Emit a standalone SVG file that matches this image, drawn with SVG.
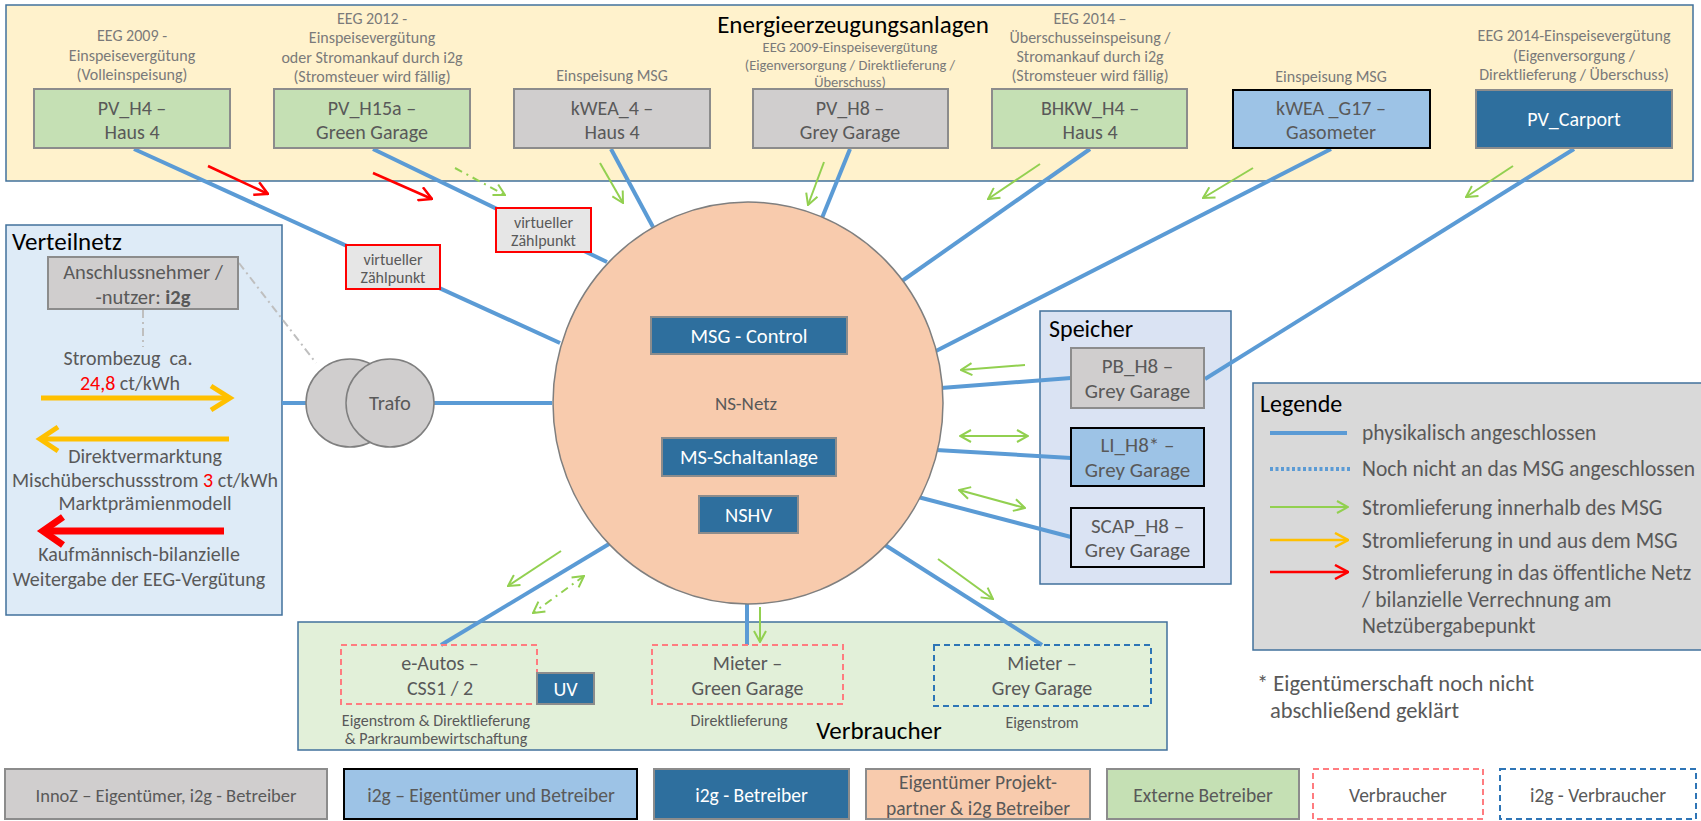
<svg xmlns="http://www.w3.org/2000/svg" width="1701" height="821" viewBox="0 0 1701 821">
<style>
text{font-family:Carlito,Lato,"Liberation Sans",sans-serif;fill:#595959;text-anchor:middle}
.ann{font-size:16px;fill:#7a7a7a}
.ann2{font-size:14.5px;fill:#7a7a7a}
.bt{font-size:20px}
.st{font-size:21px}
.it{font-size:20.5px}
.wt{fill:#ffffff}
.hd{fill:#000000;text-anchor:start}
.lt{text-anchor:start;font-size:21.5px}
.cap{font-size:16px}
.green{fill:#c5e0b4;stroke:#8c8c8c;stroke-width:2}
.grey{fill:#d0cece;stroke:#8c8c8c;stroke-width:2}
.lblue{fill:#9dc3e6;stroke:#000;stroke-width:2}
.dblue{fill:#2e6f9e;stroke:#8c8c8c;stroke-width:2}
.peach{fill:#f8cbad;stroke:#8c8c8c;stroke-width:2}
.dpink{fill:none;stroke:#ff7c80;stroke-width:2;stroke-dasharray:6 4}
.dblu{fill:none;stroke:#2e75b6;stroke-width:2;stroke-dasharray:6 4}
.vz{fill:#e6e6e6;stroke:#ff0000;stroke-width:2}
.bl{stroke:#5b9bd5;stroke-width:4;fill:none}
.ga{stroke:#92d050;stroke-width:2;fill:none;marker-end:url(#mg)}
.gd{stroke:#92d050;stroke-width:2;fill:none;marker-end:url(#mg);marker-start:url(#mg)}
.ra{stroke:#ff0000;stroke-width:2.5;fill:none;marker-end:url(#mr)}
</style>
<defs>
<marker id="mg" viewBox="0 0 14 14" refX="13" refY="7" markerWidth="14" markerHeight="14" markerUnits="userSpaceOnUse" orient="auto-start-reverse"><path d="M2,1 L13,7 L2,13" fill="none" stroke="#92d050" stroke-width="2"/></marker>
<marker id="mr" viewBox="0 0 16 16" refX="15" refY="8" markerWidth="16" markerHeight="16" markerUnits="userSpaceOnUse" orient="auto"><path d="M2,1 L15,8 L2,15" fill="none" stroke="#ff0000" stroke-width="2.5"/></marker>
<marker id="my" viewBox="0 0 16 16" refX="15" refY="8" markerWidth="16" markerHeight="16" markerUnits="userSpaceOnUse" orient="auto"><path d="M2,1 L15,8 L2,15" fill="none" stroke="#ffc000" stroke-width="2.5"/></marker>
</defs>
<rect width="1701" height="821" fill="#ffffff"/>

<!-- containers -->
<g id="erzeugung">
<rect x="6" y="5" width="1687" height="176" fill="#fff2cc" stroke="#41719c" stroke-width="1.5"/>
<text x="853" y="33" class="hd" style="text-anchor:middle;font-size:25px">Energieerzeugungsanlagen</text>
</g>
<g id="verteilnetz">
<rect x="6" y="225" width="276" height="390" fill="#deebf7" stroke="#41719c" stroke-width="1.5"/>
<text x="12" y="250" class="hd" style="font-size:25px">Verteilnetz</text>
</g>
<g id="speicher">
<rect x="1040" y="311" width="191" height="273" fill="#dae3f3" stroke="#41719c" stroke-width="1.5"/>
<text x="1049" y="337" class="hd" style="font-size:24px">Speicher</text>
</g>
<g id="verbraucher">
<rect x="298" y="622" width="869" height="128" fill="#e2f0d9" stroke="#41719c" stroke-width="1.5"/>
<text x="879" y="739" class="hd" style="text-anchor:middle;font-size:25px">Verbraucher</text>
</g>

<!-- connectors -->
<g id="connectors">
<line class="bl" x1="134" y1="149" x2="560" y2="343"/>
<line class="bl" x1="373" y1="149" x2="607" y2="262"/>
<line class="bl" x1="611" y1="149" x2="653" y2="227"/>
<line class="bl" x1="850" y1="149" x2="822" y2="218"/>
<line class="bl" x1="1090" y1="149" x2="902" y2="281"/>
<line class="bl" x1="1331" y1="149" x2="934" y2="352"/>
<line class="bl" x1="1574" y1="149" x2="1205" y2="379"/>
<line class="bl" x1="941" y1="388" x2="1071" y2="378"/>
<line class="bl" x1="936" y1="450" x2="1071" y2="458"/>
<line class="bl" x1="918" y1="497" x2="1071" y2="537"/>
<line class="bl" x1="885" y1="545" x2="1042" y2="645"/>
<line class="bl" x1="747" y1="603" x2="747" y2="645"/>
<line class="bl" x1="441" y1="645" x2="609" y2="544"/>
<line class="bl" x1="282" y1="403" x2="306" y2="403"/>
<line class="bl" x1="434" y1="403" x2="552" y2="403"/>
<line x1="143" y1="310" x2="143" y2="347" stroke="#bfbfbf" stroke-width="2" stroke-dasharray="8 4 2 4"/>
<line x1="239" y1="263" x2="316" y2="363" stroke="#bfbfbf" stroke-width="2" stroke-dasharray="8 4 2 4"/>
<line class="ra" x1="208" y1="166" x2="268" y2="194"/>
<line class="ra" x1="373" y1="173" x2="432" y2="199"/>
<line class="ga" x1="455" y1="168" x2="505" y2="195" stroke-dasharray="8 5 2 5"/>
<line class="ga" x1="600" y1="163" x2="623" y2="203"/>
<line class="ga" x1="824" y1="162" x2="808" y2="205"/>
<line class="ga" x1="1040" y1="164" x2="988" y2="199"/>
<line class="ga" x1="1253" y1="168" x2="1203" y2="198"/>
<line class="ga" x1="1513" y1="166" x2="1466" y2="197"/>
<line class="ga" x1="1025" y1="365" x2="961" y2="370"/>
<line class="gd" x1="960" y1="436" x2="1028" y2="436"/>
<line class="gd" x1="959" y1="490" x2="1025" y2="508"/>
<line class="ga" x1="938" y1="559" x2="993" y2="599"/>
<line class="ga" x1="760" y1="607" x2="760" y2="642"/>
<line class="ga" x1="561" y1="551" x2="508" y2="586"/>
<line class="gd" x1="584" y1="576" x2="533" y2="613" stroke-dasharray="8 5 2 5"/>
<!-- Verteilnetz arrows -->
<path d="M41,398 H229" stroke="#ffc000" stroke-width="5" fill="none"/>
<path d="M211,386 L230,398 L211,410" stroke="#ffc000" stroke-width="5" fill="none"/>
<path d="M41,439 H229" stroke="#ffc000" stroke-width="5" fill="none"/>
<path d="M58,427 L40,439 L58,451" stroke="#ffc000" stroke-width="5" fill="none"/>
<path d="M46,531 H224" stroke="#ff0000" stroke-width="7" fill="none"/>
<path d="M63,517 L43,531 L63,545" stroke="#ff0000" stroke-width="7" fill="none"/>
</g>

<!-- NS-Netz -->
<g id="ns-netz">
<ellipse cx="748" cy="403" rx="195" ry="201" fill="#f8cbad" stroke="#7f7f7f" stroke-width="1.5"/>
<text x="746" y="410" style="font-size:19px">NS-Netz</text>
</g>
<g id="msg-control"><rect x="651" y="317" width="196" height="37" class="dblue"/><text x="749" y="343" class="it wt">MSG - Control</text></g>
<g id="ms-schaltanlage"><rect x="662" y="438" width="174" height="38" class="dblue"/><text x="749" y="464" class="it wt">MS-Schaltanlage</text></g>
<g id="nshv"><rect x="699" y="496" width="99" height="37" class="dblue"/><text x="748.5" y="522" class="it wt">NSHV</text></g>

<!-- generators -->
<g id="pv-h4">
<text class="ann" x="132" y="40.5">EEG 2009 -</text>
<text class="ann" x="132" y="60.5">Einspeisevergütung</text>
<text class="ann" x="132" y="79.5">(Volleinspeisung)</text>
<rect x="34" y="89" width="196" height="59" class="green"/>
<text class="bt" x="132" y="115">PV_H4 –</text>
<text class="bt" x="132" y="139">Haus 4</text>
</g>
<g id="pv-h15a">
<text class="ann" x="372" y="23.5">EEG 2012 -</text>
<text class="ann" x="372" y="42.5">Einspeisevergütung</text>
<text class="ann" x="372" y="62.5">oder Stromankauf durch i2g</text>
<text class="ann" x="372" y="81.5">(Stromsteuer wird fällig)</text>
<rect x="274" y="89" width="196" height="59" class="green"/>
<text class="bt" x="372" y="115">PV_H15a –</text>
<text class="bt" x="372" y="139">Green Garage</text>
</g>
<g id="kwea-4">
<text class="ann" x="612" y="80.5">Einspeisung MSG</text>
<rect x="514" y="89" width="196" height="59" class="grey"/>
<text class="bt" x="612" y="115">kWEA_4 –</text>
<text class="bt" x="612" y="139">Haus 4</text>
</g>
<g id="pv-h8">
<text class="ann2" x="850" y="52">EEG 2009-Einspeisevergütung</text>
<text class="ann2" x="850" y="70">(Eigenversorgung / Direktlieferung /</text>
<text class="ann2" x="850" y="87">Überschuss)</text>
<rect x="753" y="89" width="195" height="59" class="grey"/>
<text class="bt" x="850" y="115">PV_H8 –</text>
<text class="bt" x="850" y="139">Grey Garage</text>
</g>
<g id="bhkw-h4">
<text class="ann" x="1090" y="23.5">EEG 2014 –</text>
<text class="ann" x="1090" y="42.5">Überschusseinspeisung /</text>
<text class="ann" x="1090" y="61.5">Stromankauf durch i2g</text>
<text class="ann" x="1090" y="80.5">(Stromsteuer wird fällig)</text>
<rect x="992" y="89" width="195" height="59" class="green"/>
<text class="bt" x="1090" y="115">BHKW_H4 –</text>
<text class="bt" x="1090" y="139">Haus 4</text>
</g>
<g id="kwea-g17">
<text class="ann" x="1331" y="81.5">Einspeisung MSG</text>
<rect x="1233" y="90" width="197" height="58" class="lblue"/>
<text class="bt" x="1331" y="115">kWEA _G17 –</text>
<text class="bt" x="1331" y="139">Gasometer</text>
</g>
<g id="pv-carport">
<text class="ann" x="1574" y="40.5">EEG 2014-Einspeisevergütung</text>
<text class="ann" x="1574" y="60.5">(Eigenversorgung /</text>
<text class="ann" x="1574" y="79.5">Direktlieferung / Überschuss)</text>
<rect x="1476" y="90" width="196" height="58" class="dblue"/>
<text class="bt wt" x="1574" y="126">PV_Carport</text>
</g>

<!-- virtual meters -->
<g id="vz1"><rect x="346" y="245" width="94" height="44" class="vz"/><text x="393" y="265" style="font-size:16px">virtueller</text><text x="393" y="283" style="font-size:16px">Zählpunkt</text></g>
<g id="vz2"><rect x="496" y="208" width="95" height="44" class="vz"/><text x="543.5" y="228" style="font-size:16px">virtueller</text><text x="543.5" y="246" style="font-size:16px">Zählpunkt</text></g>

<!-- Verteilnetz content -->
<g id="anschlussnehmer">
<rect x="48" y="257" width="190" height="52" class="grey"/>
<text x="143" y="279" style="font-size:20.5px">Anschlussnehmer /</text>
<text x="143" y="304" style="font-size:20.5px">-nutzer: <tspan style="font-weight:bold">i2g</tspan></text>
</g>
<g id="verteilnetz-text" style="font-size:20px">
<text x="128" y="365" style="white-space:pre">Strombezug  ca.</text>
<text x="130" y="390"><tspan fill="#ff0000">24,8</tspan> ct/kWh</text>
<text x="145" y="463">Direktvermarktung</text>
<text x="145" y="487">Mischüberschussstrom <tspan fill="#ff0000">3</tspan> ct/kWh</text>
<text x="145" y="510">Marktprämienmodell</text>
<text x="139" y="561">Kaufmännisch-bilanzielle</text>
<text x="139" y="586">Weitergabe der EEG-Vergütung</text>
</g>

<!-- Trafo -->
<g id="trafo">
<circle cx="350" cy="403" r="44" fill="#d0cece" stroke="#7f7f7f" stroke-width="1.5"/>
<circle cx="390" cy="403" r="44" fill="#d0cece" stroke="#7f7f7f" stroke-width="1.5"/>
<text x="390" y="410" style="font-size:20.5px">Trafo</text>
</g>

<!-- storage -->
<g id="pb-h8"><rect x="1071" y="348" width="133" height="60" class="grey"/><text class="st" x="1137.5" y="373">PB_H8 –</text><text class="st" x="1137.5" y="398">Grey Garage</text></g>
<g id="li-h8"><rect x="1071" y="428" width="133" height="58" class="lblue"/><text class="st" x="1137.5" y="452">LI_H8* –</text><text class="st" x="1137.5" y="477">Grey Garage</text></g>
<g id="scap-h8"><rect x="1071" y="508" width="133" height="59" fill="#dae3f3" stroke="#000" stroke-width="2"/><text class="st" x="1137.5" y="533">SCAP_H8 –</text><text class="st" x="1137.5" y="557">Grey Garage</text></g>

<!-- consumers -->
<g id="e-autos">
<rect x="341" y="645" width="196" height="59" class="dpink"/>
<text class="bt" x="440" y="670">e-Autos –</text>
<text class="bt" x="440" y="695">CSS1 / 2</text>
<text x="436" y="725.5" class="cap">Eigenstrom &amp; Direktlieferung</text>
<text x="436" y="743.5" class="cap">&amp; Parkraumbewirtschaftung</text>
</g>
<g id="uv"><rect x="537" y="673" width="57" height="31" class="dblue"/><text class="bt wt" x="565.5" y="696">UV</text></g>
<g id="mieter-green">
<rect x="652" y="645" width="191" height="59" class="dpink"/>
<text class="bt" x="747.5" y="670">Mieter –</text>
<text class="bt" x="747.5" y="695">Green Garage</text>
<text x="739" y="725.5" class="cap">Direktlieferung</text>
</g>
<g id="mieter-grey">
<rect x="934" y="645" width="217" height="61" class="dblu"/>
<text class="bt" x="1042" y="670">Mieter –</text>
<text class="bt" x="1042" y="695">Grey Garage</text>
<text x="1042" y="727.5" class="cap">Eigenstrom</text>
</g>

<!-- legend -->
<g id="legende">
<rect x="1253" y="383" width="460" height="267" fill="#d9d9d9" stroke="#41719c" stroke-width="1.5"/>
<text x="1260" y="412" class="hd" style="font-size:24px">Legende</text>
<line x1="1270" y1="433" x2="1347" y2="433" stroke="#5b9bd5" stroke-width="4"/>
<line x1="1270" y1="469" x2="1350" y2="469" stroke="#5b9bd5" stroke-width="4" stroke-dasharray="3 2.5"/>
<line x1="1270" y1="507" x2="1348" y2="507" class="ga"/>
<line x1="1270" y1="540" x2="1348" y2="540" stroke="#ffc000" stroke-width="2.5" marker-end="url(#my)"/>
<line x1="1270" y1="572" x2="1348" y2="572" class="ra"/>
<text class="lt" x="1362" y="439.5">physikalisch angeschlossen</text>
<text class="lt" x="1362" y="475.5">Noch nicht an das MSG angeschlossen</text>
<text class="lt" x="1362" y="514.5">Stromlieferung innerhalb des MSG</text>
<text class="lt" x="1362" y="547.5">Stromlieferung in und aus dem MSG</text>
<text class="lt" x="1362" y="579.5">Stromlieferung in das öffentliche Netz</text>
<text class="lt" x="1362" y="606.5">/ bilanzielle Verrechnung am</text>
<text class="lt" x="1362" y="632.5">Netzübergabepunkt</text>
</g>
<g id="fussnote">
<text class="lt" x="1257" y="691" style="font-size:22.5px">* Eigentümerschaft noch nicht</text>
<text class="lt" x="1270" y="718" style="font-size:22.5px">abschließend geklärt</text>
</g>

<!-- ownership key -->
<g id="key" style="font-size:19.5px">
<g id="key-innoz"><rect x="5" y="769" width="322" height="50" class="grey"/><text x="166" y="801.5" style="font-size:18.5px">InnoZ – Eigentümer, i2g - Betreiber</text></g>
<g id="key-i2g-eb"><rect x="344" y="769" width="293" height="50" class="lblue"/><text x="491" y="802">i2g – Eigentümer und Betreiber</text></g>
<g id="key-i2g-b"><rect x="654" y="769" width="195" height="50" class="dblue"/><text x="751.5" y="802" class="wt">i2g - Betreiber</text></g>
<g id="key-peach"><rect x="866" y="769" width="224" height="50" class="peach"/><text x="978" y="789">Eigentümer Projekt-</text><text x="978" y="815">partner &amp; i2g Betreiber</text></g>
<g id="key-extern"><rect x="1107" y="769" width="192" height="50" class="green"/><text x="1203" y="802">Externe Betreiber</text></g>
<g id="key-verbr"><rect x="1313" y="769" width="170" height="50" class="dpink"/><text x="1398" y="802">Verbraucher</text></g>
<g id="key-i2g-verbr"><rect x="1500" y="769" width="196" height="50" class="dblu"/><text x="1598" y="802">i2g - Verbraucher</text></g>
</g>
</svg>
